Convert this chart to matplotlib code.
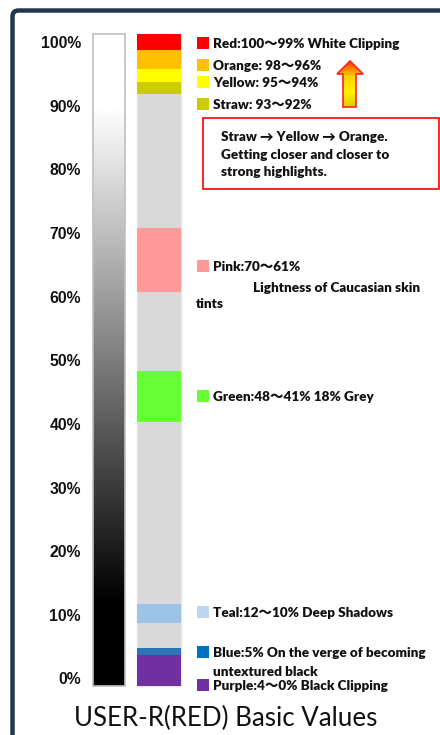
import numpy as np
import matplotlib.pyplot as plt
from matplotlib.patches import FancyBboxPatch, Rectangle, Polygon
from matplotlib.colors import LinearSegmentedColormap

# value bands on the colour strip (percent, bottom/top)
band_names = ["Purple", "Blue", "Teal", "Green", "Pink", "Straw", "Yellow", "Orange", "Red"]
band_low = [-1.0, 4.0, 9.0, 40.5, 61.0, 92.0, 94.0, 96.0, 99.0]
band_high = [4.0, 5.0, 12.0, 48.5, 71.0, 94.0, 96.0, 99.0, 101.5]
band_colors = ["#7030A0", "#2E75B6", "#9DC3E6", "#66FF33", "#FF9999",
               "#CCCC00", "#FFFF00", "#FFC000", "#FF0000"]
strip_range = (-1.0, 101.5)

tick_values = list(range(0, 101, 10))

legend_labels = [
    "Red:100～99% White Clipping",
    "Orange: 98～96%",
    "Yellow: 95～94%",
    "Straw: 93～92%",
    "Pink:70～61%",
    "Green:48～41% 18% Grey",
    "Teal:12～10% Deep Shadows",
    "Blue:5% On the verge of becoming",
    "Purple:4～0% Black Clipping",
]
legend_colors = ["#FF0000", "#FFC000", "#FFFF00", "#CCCC00", "#FF9999",
                 "#66FF33", "#BDD7EE", "#0070C0", "#7030A0"]
legend_y = [44, 66, 83, 105, 267, 397, 613, 653, 686]
extra_lines = [(253, 288, "Lightness of Caucasian skin"), (196, 304, "tints"),
               (213, 672, "untextured black")]
note_lines = ["Straw → Yellow → Orange.", "Getting closer and closer to", "strong highlights."]
title = "USER-R(RED) Basic Values"

W, H = 440, 735
TXT = ["Lato", "Noto Sans CJK JP", "DejaVu Sans"]
FS = 9.7

fig = plt.figure(figsize=(W / 100, H / 100), dpi=100)

# overlay in pixel coordinates for frame and annotations
lay = fig.add_axes([0, 0, 1, 1])
lay.set_xlim(0, W)
lay.set_ylim(H, 0)
lay.axis("off")

# bars axis: 0% at pixel 680, 100% at 43.5
top_px, bot_px = 30, 690
scale = (680 - 43.5) / 100
ax = fig.add_axes([0, (H - bot_px) / H, 1, (bot_px - top_px) / H])
ax.set_xlim(0, W)
ax.set_ylim((680 - bot_px) / scale, (680 - top_px) / scale)
ax.axis("off")

# frame
lay.add_patch(FancyBboxPatch((12.5, 10.5), 460, 760, boxstyle="round,pad=0,rounding_size=6",
                             fill=False, edgecolor="#1F3650", linewidth=3.2, zorder=1))

# grey gradient strip
yy = np.linspace(strip_range[0], strip_range[1], 400)
grey = np.clip((yy - 12) / (90 - 12), 0, 1)
img = np.repeat(grey[:, None], 2, axis=1)
ax.imshow(img, cmap="gray", vmin=0, vmax=1, origin="lower", aspect="auto",
          extent=[93, 125, strip_range[0], strip_range[1]], zorder=2)
ax.add_patch(Rectangle((93, strip_range[0]), 32, strip_range[1] - strip_range[0],
                       fill=False, edgecolor="#BFBFBF", linewidth=1.2, zorder=3))

# colour strip
ax.bar(159, strip_range[1] - strip_range[0], bottom=strip_range[0], width=44,
       color="#D9D9D9", edgecolor="#E6E6E6", linewidth=1, zorder=2)
for lo, hi, c in zip(band_low, band_high, band_colors):
    ax.bar(159, hi - lo, bottom=lo, width=44, color=c, linewidth=0, zorder=3)

for v in tick_values:
    ax.text(81, v, f"{v}%", ha="right", va="center", fontsize=11.3, fontweight="bold",
            family="Liberation Sans", color="#111111")

# legend
for lab, c, y in zip(legend_labels, legend_colors, legend_y):
    lay.add_patch(Rectangle((197, y - 7), 12, 12, color=c, linewidth=0))
    lay.text(213, y, lab, ha="left", va="center", fontsize=FS, fontweight="heavy",
             family=TXT, color="#111111")
for x, y, s in extra_lines:
    lay.text(x, y, s, ha="left", va="center", fontsize=FS, fontweight="heavy",
             family=TXT, color="#111111")

# note box
lay.add_patch(Rectangle((203, 118), 236, 71, fill=False, edgecolor="#FF0000", linewidth=1.2))
for i, s in enumerate(note_lines):
    lay.text(221, 137 + i * 17.5, s, ha="left", va="center", fontsize=FS, fontweight="heavy",
             family=TXT, color="#111111")

# gradient up arrow
pts = [(350, 61), (363, 74), (356, 74), (356, 107), (343, 107), (343, 74), (337, 74)]
arrow = Polygon(pts, closed=True, facecolor="none", edgecolor="#FF2020", linewidth=1.2, zorder=5)
lay.add_patch(arrow)
cm = LinearSegmentedColormap.from_list("arr", ["#FF3300", "#FFD000", "#FFF200", "#D8CC00"])
grad = np.linspace(0, 1, 100)[:, None]
im = lay.imshow(grad, cmap=cm, aspect="auto", extent=[337, 363, 107, 61], zorder=4)
im.set_clip_path(arrow)

fig.text(226 / W, 1 - 718 / H, title, ha="center", va="center", fontsize=18.6,
         family=TXT, color="#111111")

fig.savefig("out.png", dpi=100)
